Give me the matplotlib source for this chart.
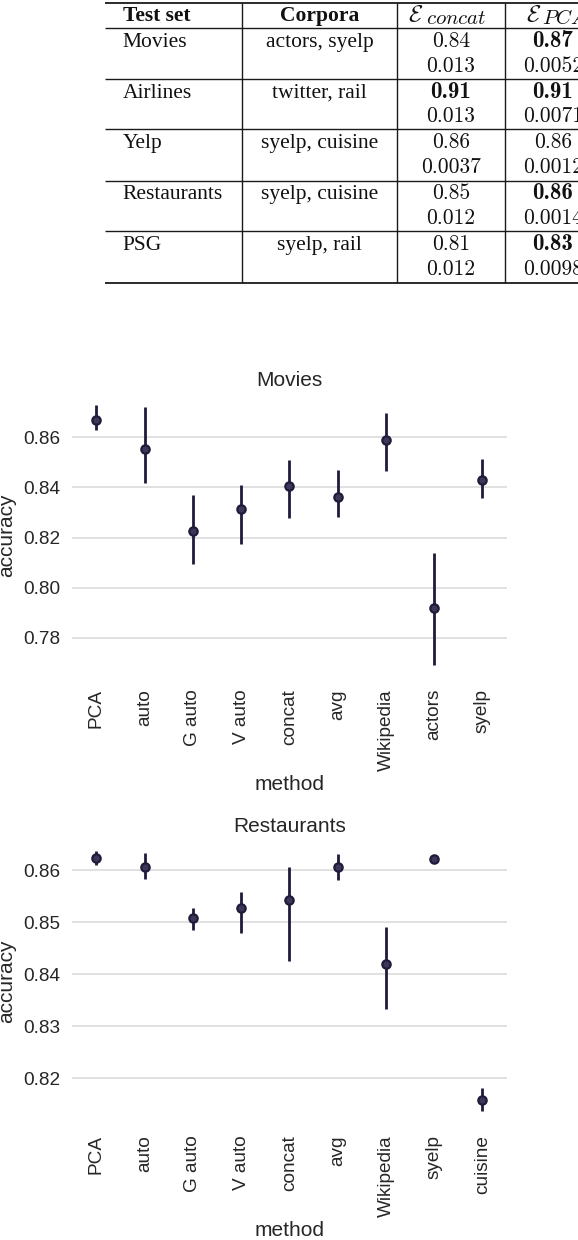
import numpy as np
import matplotlib
matplotlib.use("Agg")
import matplotlib.pyplot as plt

plt.rcParams['font.family'] = ['Liberation Sans', 'DejaVu Sans']
plt.rcParams['mathtext.fontset'] = 'cm'

# ---------------- data ----------------
table_header_text = ["Test set", "Corpora"]
table_header_sym = r"$\mathcal{E}$"
table_header_sub = [r"$concat$", r"$PCA$"]
table_testsets = ["Movies", "Airlines", "Yelp", "Restaurants", "PSG"]
table_corpora = ["actors, syelp", "twitter, rail", "syelp, cuisine", "syelp, cuisine", "syelp, rail"]
table_concat_mean = ["0.84", "0.91", "0.86", "0.85", "0.81"]
table_concat_std = ["0.013", "0.013", "0.0037", "0.012", "0.012"]
table_concat_bold = [False, True, False, False, False]
table_pca_mean = ["0.87", "0.91", "0.86", "0.86", "0.83"]
table_pca_std = ["0.0052", "0.0071", "0.0012", "0.0014", "0.0098"]
table_pca_bold = [True, True, False, True, True]

movies_methods = ["PCA", "auto", "G auto", "V auto", "concat", "avg", "Wikipedia", "actors", "syelp"]
movies_acc = [0.8671, 0.8553, 0.8227, 0.8313, 0.8407, 0.8361, 0.8591, 0.7919, 0.8429]
movies_lo = [0.8629, 0.8417, 0.8096, 0.8176, 0.8276, 0.8283, 0.8467, 0.7691, 0.8359]
movies_hi = [0.8728, 0.8721, 0.8368, 0.8409, 0.8511, 0.8468, 0.8699, 0.8137, 0.8515]
movies_yticks = [0.78, 0.80, 0.82, 0.84, 0.86]

rest_methods = ["PCA", "auto", "G auto", "V auto", "concat", "avg", "Wikipedia", "syelp", "cuisine"]
rest_acc = [0.86224, 0.86051, 0.85077, 0.85269, 0.85423, 0.86064, 0.84199, 0.86212, 0.81571]
rest_lo = [0.86096, 0.85820, 0.84840, 0.84795, 0.84244, 0.85808, 0.83330, 0.86190, 0.81360]
rest_hi = [0.86359, 0.86327, 0.85276, 0.85577, 0.86051, 0.86301, 0.84904, 0.86230, 0.81814]
rest_yticks = [0.82, 0.83, 0.84, 0.85, 0.86]

# ---------------- figure ----------------
W, H = 578, 1240
fig = plt.figure(figsize=(W / 100, H / 100), dpi=100)

# ---- table (pixel coordinate overlay) ----
tax = fig.add_axes([0, 0, 1, 1])
tax.set_xlim(0, W)
tax.set_ylim(H, 0)
tax.axis('off')
tax.patch.set_alpha(0)

line_c = '#1a1a1a'
txt_c = '#111111'
x_left, x_right = 105, 600
hlines_y = [3.0, 28.0, 79.0, 129.3, 181.0, 231.0, 283.3]
hlines_w = [1.3, 1.0, 1.0, 1.0, 1.0, 1.0, 1.3]
for yy, lw in zip(hlines_y, hlines_w):
    tax.plot([x_left, x_right], [yy, yy], color=line_c, lw=lw, solid_capstyle='butt')
for xx in [241.7, 397.3, 505.0]:
    tax.plot([xx, xx], [hlines_y[0], hlines_y[-1]], color=line_c, lw=1.0, solid_capstyle='butt')

fs_txt = 15.5
fs_num = 15.5
fs_bnum = 16.5
serif = ['Liberation Serif', 'DejaVu Serif']
col1_x, col2_x, col3_x, col4_x = 122.7, 319.5, 451, 553

tax.text(col1_x, 20.7, table_header_text[0], family=serif, weight='bold', fontsize=fs_txt,
         ha='left', va='baseline', color=txt_c)
tax.text(col2_x, 20.7, table_header_text[1], family=serif, weight='bold', fontsize=fs_txt,
         ha='center', va='baseline', color=txt_c)
for sx, subx, sub in zip([408.5, 526.0], [425.5, 541.5], table_header_sub):
    tax.text(sx, 20.7, table_header_sym, fontsize=17, ha='left', va='baseline', color=txt_c)
    tax.text(subx, 24.0, sub, fontsize=15, ha='left', va='baseline', color=txt_c)

for i in range(len(table_testsets)):
    b1 = 46.7 + 50.8 * i
    b2 = b1 + 25.0
    tax.text(col1_x, b1, table_testsets[i], family=serif, fontsize=fs_txt, ha='left', va='baseline', color=txt_c)
    tax.text(col2_x, b1, table_corpora[i], family=serif, fontsize=fs_txt, ha='center', va='baseline', color=txt_c)
    if table_concat_bold[i]:
        tax.text(col3_x, b1, table_concat_mean[i], family='cmb10', fontsize=fs_bnum, ha='center', va='baseline', color=txt_c)
    else:
        tax.text(col3_x, b1, table_concat_mean[i], family='cmr10', fontsize=fs_num, ha='center', va='baseline', color=txt_c)
    tax.text(col3_x, b2, table_concat_std[i], family='cmr10', fontsize=fs_num, ha='center', va='baseline', color=txt_c)
    if table_pca_bold[i]:
        tax.text(col4_x, b1, table_pca_mean[i], family='cmb10', fontsize=fs_bnum, ha='center', va='baseline', color=txt_c)
    else:
        tax.text(col4_x, b1, table_pca_mean[i], family='cmr10', fontsize=fs_num, ha='center', va='baseline', color=txt_c)
    tax.text(col4_x, b2, table_pca_std[i], family='cmr10', fontsize=fs_num, ha='center', va='baseline', color=txt_c)

# ---- point plots ----
pt_color = '#1e1b3b'
text_c = '#262626'


def pointplot(ax, methods, acc, lo, hi, yticks, ylim, title):
    x = np.arange(len(methods))
    ax.vlines(x, lo, hi, color=pt_color, lw=2.0, zorder=3)
    ax.plot(x, acc, linestyle='none', marker='o', markersize=6.0,
            markerfacecolor='#3b3858', markeredgecolor=pt_color, markeredgewidth=1.6, zorder=4)
    ax.set_xlim(-0.5, len(methods) - 0.5)
    ax.set_ylim(*ylim)
    ax.set_yticks(yticks)
    ax.set_yticklabels([f"{v:.2f}" for v in yticks])
    ax.set_xticks(x)
    ax.set_xticklabels(methods, rotation=90)
    for s in ax.spines.values():
        s.set_visible(False)
    ax.grid(axis='y', color='#d9d9d9', lw=1.1)
    ax.set_axisbelow(True)
    ax.tick_params(axis='y', length=0, pad=8.5, labelsize=13.7, labelcolor=text_c)
    ax.tick_params(axis='x', length=0, pad=8.0, labelsize=13.7, labelcolor=text_c)
    ax.set_xlabel('method', fontsize=15, color=text_c, labelpad=3)
    ax.set_ylabel('accuracy', fontsize=15, color=text_c, labelpad=5)
    ax.set_title(title, fontsize=15, color=text_c, pad=4.5)


ax1 = fig.add_axes([72.3 / W, (H - 678.0) / H, 434.3 / W, 286.0 / H])
pointplot(ax1, movies_methods, movies_acc, movies_lo, movies_hi, movies_yticks, (0.7639, 0.8781), 'Movies')

ax2 = fig.add_axes([72.3 / W, (H - 1124.3) / H, 434.3 / W, 286.0 / H])
pointplot(ax2, rest_methods, rest_acc, rest_lo, rest_hi, rest_yticks, (0.8111, 0.8661), 'Restaurants')

fig.savefig('out.png', dpi=100)
